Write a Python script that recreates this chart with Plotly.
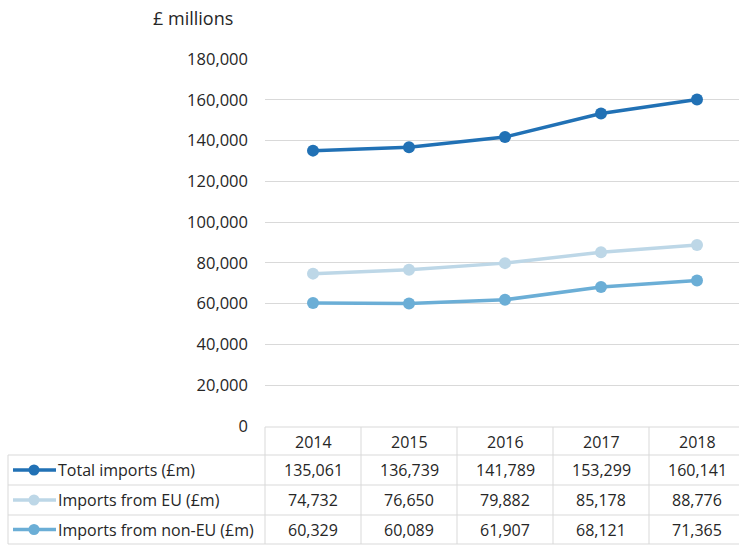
import plotly.graph_objects as go

# Import values, £ millions
years = ["2014", "2015", "2016", "2017", "2018"]
total_imports = [135061, 136739, 141789, 153299, 160141]
eu_imports = [74732, 76650, 79882, 85178, 88776]
non_eu_imports = [60329, 60089, 61907, 68121, 71365]

series_names = ["Total imports (£m)", "Imports from EU (£m)", "Imports from non-EU (£m)"]
series_values = [total_imports, eu_imports, non_eu_imports]
series_colors = ["#2171b5", "#bdd7e7", "#6baed6"]

y_ticks = list(range(0, 180001, 20000))

W, H = 739, 545
PLOT_L, PLOT_R = 265, 739       # plot area, pixels
PLOT_T, PLOT_B = 59, 426
COL_W = 96                      # width of one category column

FONT = "Open Sans"
TEXT = "#262626"
GRID = "#d9d9d9"


def px(x):
    return (x - PLOT_L) / (PLOT_R - PLOT_L)


def py(y):
    return (PLOT_B - y) / (PLOT_B - PLOT_T)


fig = go.Figure()
for name, vals, col in zip(series_names, series_values, series_colors):
    fig.add_trace(go.Scatter(
        x=years, y=vals, name=name, mode="lines+markers",
        line=dict(color=col, width=3.5),
        marker=dict(color=col, size=12),
        cliponaxis=False,
    ))

shapes = []
annotations = []

# data table: header row + one row per series
row_edges = [427, 455, 485, 515, 544]
line_style = dict(color=GRID, width=1)

# vertical column borders
for i in range(len(years) + 1):
    x = PLOT_L + i * COL_W
    shapes.append(dict(type="line", xref="paper", yref="paper",
                       x0=px(x), x1=px(x), y0=py(row_edges[0]), y1=py(row_edges[-1]),
                       line=line_style))
# legend column left border
shapes.append(dict(type="line", xref="paper", yref="paper",
                   x0=px(8), x1=px(8), y0=py(row_edges[1]), y1=py(row_edges[-1]),
                   line=line_style))
# horizontal borders
shapes.append(dict(type="line", xref="paper", yref="paper",
                   x0=px(PLOT_L), x1=1, y0=py(row_edges[0]), y1=py(row_edges[0]),
                   line=line_style))
for y in row_edges[1:]:
    shapes.append(dict(type="line", xref="paper", yref="paper",
                       x0=px(8), x1=1, y0=py(y), y1=py(y), line=line_style))


def cell_text(xval, xref, y_pix, text, xanchor="center"):
    return dict(x=xval, y=py(y_pix), xref=xref, yref="paper", text=text,
                showarrow=False, xanchor=xanchor, yanchor="middle",
                font=dict(family=FONT, size=16, color=TEXT))


# header years (x given as category index)
for i, yr in enumerate(years):
    annotations.append(cell_text(i, "x", (row_edges[0] + row_edges[1]) / 2 + 1, yr))

# series rows: legend key, name and values
for r, (name, vals, col) in enumerate(zip(series_names, series_values, series_colors)):
    yc = (row_edges[r + 1] + row_edges[r + 2]) / 2
    shapes.append(dict(type="line", xref="paper", yref="paper",
                       x0=px(13), x1=px(56), y0=py(yc), y1=py(yc),
                       line=dict(color=col, width=3.5)))
    shapes.append(dict(type="circle", xref="paper", yref="paper",
                       x0=px(28.5), x1=px(39.5), y0=py(yc + 5.5), y1=py(yc - 5.5),
                       fillcolor=col, line=dict(color=col, width=0)))
    annotations.append(cell_text(px(56), "paper", yc, name, xanchor="left"))
    for i, v in enumerate(vals):
        annotations.append(cell_text(i, "x", yc, f"{v:,}"))

# axis unit label
annotations.append(dict(x=px(151), y=py(18), xref="paper", yref="paper",
                        text="£ millions", showarrow=False, xanchor="left",
                        yanchor="middle",
                        font=dict(family=FONT, size=18, color=TEXT)))

fig.update_layout(
    width=W, height=H,
    margin=dict(l=PLOT_L, r=W - PLOT_R, t=PLOT_T, b=H - PLOT_B, pad=0),
    paper_bgcolor="white", plot_bgcolor="white",
    showlegend=False,
    shapes=shapes, annotations=annotations,
    xaxis=dict(type="category", range=[-0.5, -0.5 + (PLOT_R - PLOT_L) / COL_W],
               showticklabels=False, showgrid=False, zeroline=False,
               showline=False, ticks=""),
    yaxis=dict(range=[0, 180000], tickvals=y_ticks,
               ticktext=[f"{v:,}" for v in y_ticks],
               showgrid=True, gridcolor=GRID, gridwidth=1,
               zeroline=False, showline=False, ticks="",
               ticklabelstandoff=16,
               tickfont=dict(family=FONT, size=16.5, color=TEXT)),
)

fig.write_html("out.html")
